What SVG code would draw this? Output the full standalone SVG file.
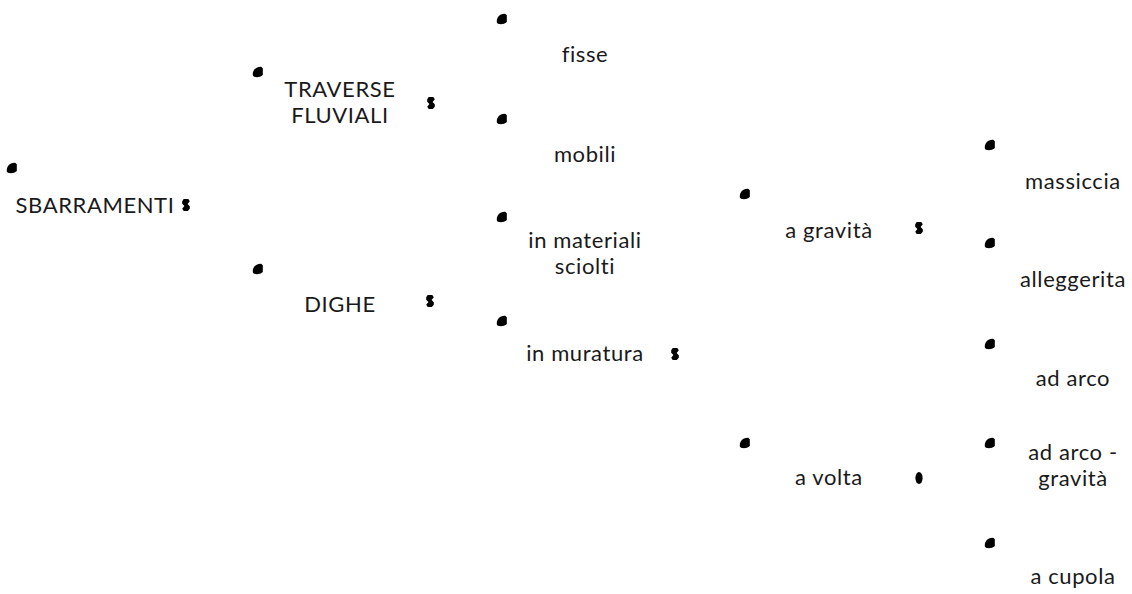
<svg xmlns="http://www.w3.org/2000/svg" xmlns:xlink="http://www.w3.org/1999/xlink" width="1132" height="594" viewBox="0 0 1132 594">
<style>
text{font-family:Lato,"Open Sans","Liberation Sans",sans-serif;font-size:22px;letter-spacing:0.6px;fill:#1a1a1a;text-anchor:middle}
.b,.m{fill:#000}
</style>
<defs>
<path id="bul" class="b" d="M-5,4 C-6.2,-0.5 -3,-5.5 3.2,-5.3 L4.8,-3.8 L4.8,3 C1.8,5.6 -2.8,5.8 -5,4Z"/>
<path id="mk" class="m" d="M-2.3,-6 L2.3,-6 L3.8,-3.8 L1.6,-1 L3.8,1.2 L3.8,3.8 L1.8,6 L-2.3,6 L-3.8,3.8 L-1.6,1 L-3.8,-1.2 L-3.8,-3.8Z"/>
<ellipse id="mko" class="m" cx="0" cy="0" rx="3.6" ry="6"/>
</defs>
<rect width="1132" height="594" fill="#fff"/>
<g id="n-sbarramenti"><use xlink:href="#bul" x="12" y="168"/><text x="95" y="213">SBARRAMENTI</text><use xlink:href="#mk" x="186" y="205"/></g>
<g id="n-traverse"><use xlink:href="#bul" x="258" y="72"/><text x="340" y="96.5">TRAVERSE<tspan x="340" dy="26.6">FLUVIALI</tspan></text><use xlink:href="#mk" x="431" y="103"/></g>
<g id="n-dighe"><use xlink:href="#bul" x="258" y="269"/><text x="340" y="312">DIGHE</text><use xlink:href="#mk" x="430" y="301"/></g>
<g id="n-fisse"><use xlink:href="#bul" x="502" y="19"/><text x="585" y="62">fisse</text></g>
<g id="n-mobili"><use xlink:href="#bul" x="502" y="119"/><text x="585" y="162">mobili</text></g>
<g id="n-sciolti"><use xlink:href="#bul" x="502" y="217"/><text x="585" y="247.5">in materiali<tspan x="585" dy="26.6">sciolti</tspan></text></g>
<g id="n-muratura"><use xlink:href="#bul" x="502" y="321"/><text x="585" y="361">in muratura</text><use xlink:href="#mk" x="675" y="354"/></g>
<g id="n-gravita"><use xlink:href="#bul" x="745" y="194"/><text x="829" y="238">a gravità</text><use xlink:href="#mk" x="919" y="228"/></g>
<g id="n-volta"><use xlink:href="#bul" x="745" y="443"/><text x="829" y="485">a volta</text><use xlink:href="#mko" x="919" y="478"/></g>
<g id="n-massiccia"><use xlink:href="#bul" x="990" y="145"/><text x="1073" y="189">massiccia</text></g>
<g id="n-alleggerita"><use xlink:href="#bul" x="990" y="243"/><text x="1073" y="287">alleggerita</text></g>
<g id="n-arco"><use xlink:href="#bul" x="990" y="344"/><text x="1073" y="386">ad arco</text></g>
<g id="n-arcogravita"><use xlink:href="#bul" x="990" y="443"/><text x="1073" y="459.5">ad arco -<tspan x="1073" dy="26.6">gravità</tspan></text></g>
<g id="n-cupola"><use xlink:href="#bul" x="990" y="543"/><text x="1073" y="584">a cupola</text></g>
</svg>
